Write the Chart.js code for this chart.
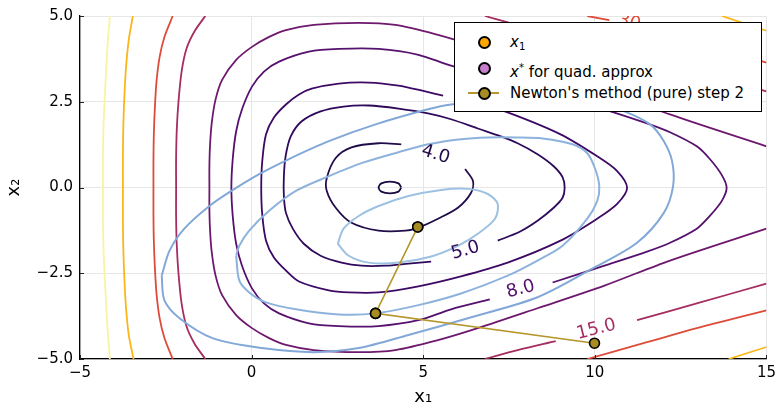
<!DOCTYPE html>
<html>
<head>
<meta charset="utf-8">
<script src="https://cdn.jsdelivr.net/npm/chart.js@4.4.1/dist/chart.umd.min.js"></script>
<style>
  body { margin: 0; background: #fff; }
  #wrap { position: relative; width: 781px; height: 408px; }
  #legend {
    position: absolute; left: 454px; top: 22px; width: 306px; height: 88px;
    border: 1.5px solid #000; background: #fff;
    font-family: 'DejaVu Sans', sans-serif; font-size: 15px; color: #000;
  }
  .row { position: absolute; left: 0; height: 20px; width: 100%; }
  .mk { position: absolute; left: 23px; top: 4px; width: 9px; height: 9px; border: 2px solid #000; border-radius: 50%; }
  .ln { position: absolute; left: 13px; top: 9px; width: 31px; height: 2px; background: #b5962a; }
  .tx { position: absolute; left: 55px; top: 0; line-height: 20px; white-space: nowrap; }
  sub, sup { font-size: 10px; }
  sub { vertical-align: -3px; }
  sup { vertical-align: 6px; }
</style>
</head>
<body>
<div id="wrap">
  <canvas id="chart" width="781" height="408"></canvas>
  <div id="legend">
    <div class="row" style="top:9px"><div class="mk" style="background:#ffa500"></div><div class="tx"><i>x</i><sub>1</sub></div></div>
    <div class="row" style="top:35px"><div class="mk" style="background:#c77dcc"></div><div class="tx"><i>x</i><sup>*</sup> for quad. approx</div></div>
    <div class="row" style="top:60px"><div class="ln"></div><div class="mk" style="background:#a68c22"></div><div class="tx">Newton's method (pure) step 2</div></div>
  </div>
</div>
<script>
// tick values
const xTicks = [-5, 0, 5, 10, 15];
const yTicks = [-5, -2.5, 0, 2.5, 5];

// contour lines of f (each level is a list of segments)
const lev3 = [[[4.36,0],[4.28,0.12],[4.03,0.17],[3.78,0.12],[3.70,0],[3.78,-0.12],[4.03,-0.17],[4.28,-0.12],[4.36,0]]];
const lev4 = [[[6.22,0.54],[6.45,0.19],[6.39,-0.16],[6.01,-0.59],[5.43,-0.91],[4.86,-1.17],[4.48,-1.26],[3.70,-1.26],[2.91,-1.03],[2.45,-0.59],[2.19,-0.10],[2.19,0.28],[2.45,0.86],[2.91,1.17],[3.70,1.29],[4.36,1.26]]];
const lev5 = [[[7.17,-1.55],[7.81,-1.29],[8.33,-0.97],[8.80,-0.59],[9.06,-0.30],[9.12,-0.01],[9.06,0.30],[8.80,0.62],[8.33,0.97],[7.75,1.29],[7.26,1.49],[6.59,1.72],[5.81,1.99],[5.14,2.16],[4.28,2.30],[3.41,2.39],[2.68,2.36],[2.01,2.22],[1.46,1.93],[1.14,1.49],[0.99,0.91],[0.94,0.33],[0.94,-0.25],[1.00,-0.74],[1.20,-1.20],[1.52,-1.64],[2.01,-1.99],[2.62,-2.19],[3.20,-2.28],[3.90,-2.28],[4.57,-2.22],[5.23,-2.16]]];
const lev6 = [[[5.58,2.68],[5.06,2.80],[4.28,2.97],[3.41,3.06],[2.54,3.03],[1.75,2.88],[1.38,2.71],[1.00,2.42],[0.65,2.04],[0.42,1.55],[0.31,0.77],[0.28,-0.01],[0.31,-0.79],[0.42,-1.55],[0.65,-2.04],[1.00,-2.42],[1.38,-2.74],[2.25,-3.00],[2.83,-3.06],[3.70,-3.06],[4.86,-2.88],[6.10,-2.59],[7.46,-2.19],[9.00,-1.55],[10.07,-0.91],[10.65,-0.48],[10.94,-0.01],[10.65,0.48],[10.07,0.91],[9.00,1.55],[7.46,2.19],[6.59,2.45]]];
const lev8 = [[[8.77,-2.77],[10.28,-2.28],[11.52,-1.87],[12.19,-1.61],[12.97,-1.20],[13.35,-0.83],[13.70,-0.39],[13.84,-0.01],[13.70,0.36],[13.35,0.83],[12.97,1.20],[12.19,1.61],[11.52,1.87],[10.28,2.28],[8.77,2.77],[6.94,3.26],[5.81,3.55],[4.86,3.87],[3.70,4.04],[2.54,4.04],[1.67,3.96],[0.80,3.67],[0.36,3.38],[0.01,2.94],[-0.28,2.28],[-0.45,1.64],[-0.55,0.83],[-0.59,-0.01],[-0.55,-0.83],[-0.45,-1.64],[-0.28,-2.28],[0.01,-2.94],[0.36,-3.38],[0.80,-3.67],[1.67,-3.96],[2.54,-4.04],[3.70,-4.04],[4.86,-3.87],[5.81,-3.55],[6.94,-3.26]]];
const lev10 = [[[15.0,-1.20],[12.19,-2.13],[10.28,-2.86],[8.33,-3.52],[6.59,-4.10],[5.43,-4.45],[4.19,-4.74],[3.12,-4.80],[1.81,-4.74],[1.00,-4.59],[0.51,-4.39],[0.01,-4.10],[-0.45,-3.72],[-0.86,-3.14],[-1.05,-2.57],[-1.16,-1.90],[-1.21,-1.26],[-1.23,-0.63],[-1.23,0.01],[-1.23,0.63],[-1.21,1.26],[-1.16,1.90],[-1.05,2.57],[-0.86,3.14],[-0.45,3.72],[0.01,4.10],[0.51,4.39],[1.00,4.59],[1.81,4.74],[3.12,4.80],[4.19,4.74],[5.43,4.45],[6.59,4.10],[8.33,3.52],[10.28,2.86],[12.19,2.13],[15.0,1.20]]];
const lev15 = [
  [[-1.35,5.0],[-1.67,4.54],[-1.90,4.04],[-2.04,3.38],[-2.13,2.51],[-2.18,1.70],[-2.20,0.85],[-2.20,0.0],[-2.20,-0.85],[-2.18,-1.70],[-2.13,-2.51],[-2.04,-3.38],[-1.90,-4.04],[-1.67,-4.54],[-1.35,-5.0]],
  [[6.80,-5.0],[7.75,-4.74],[8.86,-4.48]],
  [[11.23,-3.87],[12.97,-3.38],[15.0,-2.80]],
  [[6.80,5.0],[7.75,4.74],[8.86,4.48],[11.23,3.87],[12.97,3.38],[15.0,2.80]]
];
const lev30 = [
  [[-2.30,5.0],[-2.54,4.39],[-2.68,3.81],[-2.77,3.10],[-2.82,2.30],[-2.85,1.50],[-2.86,0.75],[-2.86,0.0],[-2.86,-0.75],[-2.85,-1.50],[-2.82,-2.30],[-2.77,-3.10],[-2.68,-3.81],[-2.54,-4.39],[-2.30,-5.0]],
  [[9.78,5.0],[10.42,4.88]],
  [[11.67,4.62],[12.97,4.25],[15.0,3.64]],
  [[9.78,-5.0],[11.52,-4.51],[12.97,-4.10],[15.0,-3.58]]
];
const lev60 = [
  [[-3.46,5.0],[-3.58,4.30],[-3.66,3.50],[-3.71,2.60],[-3.74,1.70],[-3.75,0.85],[-3.75,0.0],[-3.75,-0.85],[-3.74,-1.70],[-3.71,-2.60],[-3.66,-3.50],[-3.58,-4.30],[-3.44,-5.0]],
  [[13.70,5.0],[15.0,4.57]],
  [[13.90,-5.0],[15.0,-4.65]]
];
const lev100 = [[[-4.13,5.0],[-4.20,4.10],[-4.25,3.20],[-4.29,2.40],[-4.32,1.60],[-4.33,0.80],[-4.33,0.0],[-4.33,-0.80],[-4.32,-1.60],[-4.29,-2.40],[-4.25,-3.20],[-4.20,-4.10],[-4.13,-5.0]]];

// contours of the quadratic approximation
const quadA = [[2.51,-1.64],[2.68,-1.20],[3.12,-0.83],[3.70,-0.54],[4.57,-0.25],[5.52,-0.07],[6.30,-0.04],[6.88,-0.19],[7.17,-0.48],[7.09,-0.91],[6.59,-1.35],[6.01,-1.70],[5.23,-2.01],[4.28,-2.19],[3.41,-2.19],[2.83,-1.99],[2.51,-1.64]];
const quadB = [[-0.45,-1.99],[-0.36,-2.71],[-0.07,-3.06],[0.42,-3.35],[1.29,-3.55],[2.54,-3.70],[3.61,-3.67],[4.86,-3.43],[6.10,-3.09],[7.46,-2.57],[8.33,-2.13],[9.06,-1.70],[9.78,-0.91],[10.07,-0.39],[10.13,0.04],[10.01,0.54],[9.78,1.00],[9.35,1.26],[8.48,1.43],[7.75,1.46],[6.88,1.46],[6.10,1.41],[5.14,1.26],[4.28,1.03],[3.20,0.71],[2.25,0.33],[1.29,-0.10],[0.51,-0.68],[-0.07,-1.26],[-0.36,-1.70],[-0.45,-1.99]];
const quadC = [[-2.62,-2.57],[-2.54,-3.29],[-2.10,-3.81],[-1.14,-4.39],[0.30,-4.68],[1.81,-4.80],[3.12,-4.68],[4.57,-4.30],[6.30,-3.81],[8.33,-3.20],[9.99,-2.33],[11.23,-1.61],[12.01,-0.74],[12.28,0.04],[12.25,0.77],[12.01,1.35],[11.61,1.84],[10.86,2.22],[10.07,2.45],[8.91,2.59],[7.46,2.59],[5.81,2.42],[5.14,2.28],[3.61,1.84],[2.25,1.35],[1.09,0.83],[0.22,0.39],[-0.59,-0.10],[-1.23,-0.54],[-1.96,-1.20],[-2.39,-1.84],[-2.62,-2.57]];

// points
const x1Point = [3.61, -3.67];
const xStarPoint = [4.84, -1.15];
const newtonSteps = [[9.99, -4.54], [3.61, -3.67], [4.84, -1.15]];

// contour labels: text, position, angle, colour
const contourLabels = [
  ['4.0', 5.36, 0.96, 17, '#210c4a'],
  ['5.0', 6.23, -1.84, -16, '#2f0a5b'],
  ['8.0', 7.84, -2.97, -15, '#56106e'],
  ['15.0', 10.04, -4.14, -14, '#a62d60'],
  ['30', 11.0, 4.81, 15, '#dd4b39']
];

const pts = a => a.map(p => ({ x: p[0], y: p[1] }));

const contourSets = [
  [lev100, '#f8f4a0'], [lev60, '#fbb61a'], [lev30, '#dd4b39'], [lev15, '#a62d60'],
  [lev10, '#6e186e'], [lev8, '#56106e'], [lev6, '#3d0965'], [lev5, '#2f0a5b'],
  [lev4, '#210c4a'], [lev3, '#1a0b40']
];

const datasets = [];
datasets.push({
  data: pts(newtonSteps), showLine: true, borderColor: '#b5962a', borderWidth: 1.6,
  pointRadius: 5, pointBackgroundColor: '#a68c22', pointBorderColor: '#000', pointBorderWidth: 1.6, order: 0
});
datasets.push({ data: pts([x1Point]), pointRadius: 5, pointBackgroundColor: '#ffa500', pointBorderColor: '#000', pointBorderWidth: 1.6, order: 1 });
datasets.push({ data: pts([xStarPoint]), pointRadius: 5, pointBackgroundColor: '#c77dcc', pointBorderColor: '#000', pointBorderWidth: 1.6, order: 1 });
[[quadA, '#9cc1e2'], [quadB, '#8db3dc'], [quadC, '#82a8d8']].forEach(([q, c]) => {
  datasets.push({ data: pts(q), showLine: true, borderColor: c, borderWidth: 2, pointRadius: 0, tension: 0.3, order: 2 });
});
contourSets.forEach(([segs, c]) => {
  segs.forEach(s => {
    datasets.push({ data: pts(s), showLine: true, borderColor: c, borderWidth: 1.8, pointRadius: 0, tension: 0.3, order: 3 });
  });
});

const labelPlugin = {
  id: 'contourLabels',
  afterDatasetsDraw(chart) {
    const ctx = chart.ctx, xs = chart.scales.x, ys = chart.scales.y;
    const a = chart.chartArea;
    ctx.save();
    ctx.beginPath();
    ctx.rect(a.left, a.top, a.width, a.height);
    ctx.clip();
    ctx.font = '18px "DejaVu Sans"';
    ctx.textAlign = 'center';
    ctx.textBaseline = 'middle';
    contourLabels.forEach(([t, x, y, ang, c]) => {
      ctx.save();
      ctx.translate(xs.getPixelForValue(x), ys.getPixelForValue(y));
      ctx.rotate(ang * Math.PI / 180);
      ctx.fillStyle = c;
      ctx.fillText(t, 0, 0);
      ctx.restore();
    });
    ctx.restore();
    // inner tick marks
    ctx.save();
    ctx.strokeStyle = '#222';
    ctx.lineWidth = 1;
    xTicks.forEach(v => {
      const px = Math.round(xs.getPixelForValue(v)) + 0.5;
      ctx.beginPath(); ctx.moveTo(px, a.bottom); ctx.lineTo(px, a.bottom - 4); ctx.stroke();
    });
    yTicks.forEach(v => {
      const py = Math.round(ys.getPixelForValue(v)) + 0.5;
      ctx.beginPath(); ctx.moveTo(a.left, py); ctx.lineTo(a.left + 4, py); ctx.stroke();
    });
    ctx.restore();
  }
};

const font = { family: 'DejaVu Sans', size: 15 };
new Chart(document.getElementById('chart'), {
  type: 'scatter',
  data: { datasets },
  options: {
    responsive: false, animation: false, events: [],
    layout: { padding: { top: 14, right: 11, left: 0, bottom: 0 } },
    plugins: { legend: { display: false }, tooltip: { enabled: false } },
    scales: {
      x: {
        min: -5, max: 15,
        afterBuildTicks: s => { s.ticks = xTicks.map(v => ({ value: v })); },
        afterFit: s => { s.height = 49; },
        ticks: { color: '#000', font, padding: 5, maxRotation: 0, callback: v => String(v).replace('-', '\u2212') },
        grid: { color: '#e6e6e6', drawTicks: false },
        border: { color: '#000', width: 1.3 },
        title: { display: true, text: 'x\u2081', color: '#000', font: { family: 'DejaVu Sans', size: 18 }, padding: { top: 0, bottom: 0 } }
      },
      y: {
        min: -5, max: 5,
        afterBuildTicks: s => { s.ticks = yTicks.map(v => ({ value: v })); },
        afterFit: s => { s.width = 80; },
        ticks: { color: '#000', font, padding: 7, callback: v => v.toFixed(1).replace('-', '\u2212') },
        grid: { color: '#e6e6e6', drawTicks: false },
        border: { color: '#000', width: 1.3 },
        title: { display: true, text: 'x\u2082', color: '#000', font: { family: 'DejaVu Sans', size: 18 }, padding: { top: 4, bottom: 0 } }
      }
    }
  },
  plugins: [labelPlugin]
});
</script>
</body>
</html>
